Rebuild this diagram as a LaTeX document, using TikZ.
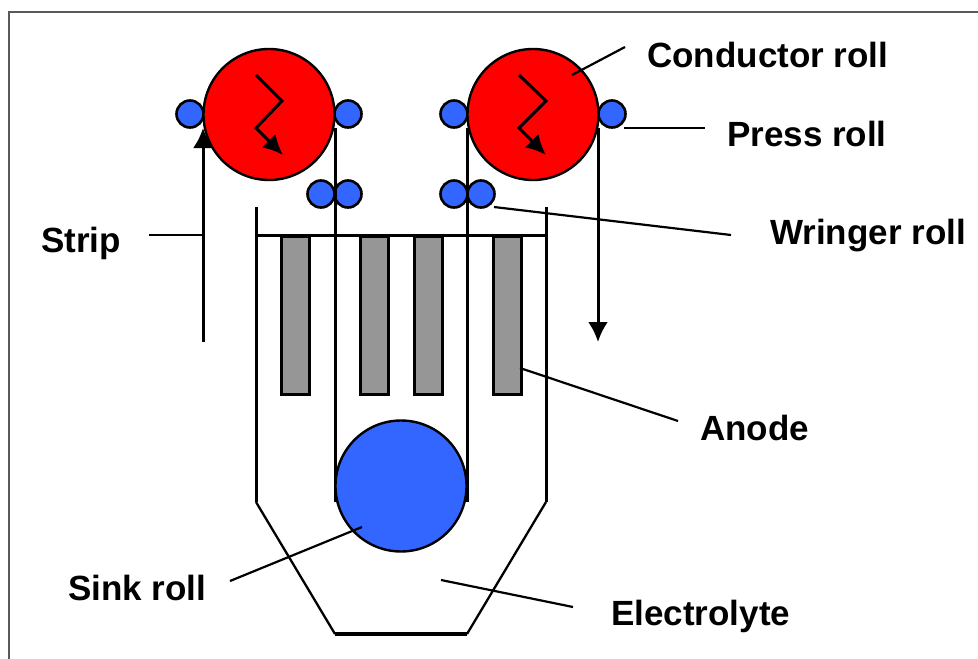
\documentclass[tikz,border=0pt]{standalone}
\usepackage{fontspec}
\setmainfont{Liberation Sans}
\usetikzlibrary{arrows.meta}
\definecolor{rollblue}{RGB}{51,102,255}
\definecolor{anodegray}{RGB}{150,150,150}
\tikzset{
  x=1pt,y=-1pt,
  conductor/.style={circle,draw=black,line width=2.4pt,fill=red,minimum size=131pt,inner sep=0pt},
  smallroll/.style={circle,draw=black,line width=2.6pt,fill=rollblue,minimum size=27pt,inner sep=0pt},
  sinkroll/.style={circle,draw=black,line width=2.4pt,fill=rollblue,minimum size=131pt,inner sep=0pt},
  anode/.style={draw=black,line width=3pt,fill=anodegray,minimum width=28pt,minimum height=158pt,inner sep=0pt,anchor=north},
  strip/.style={line width=3pt,draw=black},
  tank/.style={line width=3pt,draw=black},
  tanklow/.style={line width=2.3pt,draw=black},
  leader/.style={line width=2.2pt,draw=black},
  flow/.style={line width=3pt,draw=black,-{Latex[length=20pt,width=20pt]}},
  zig/.style={line width=3pt,draw=black,-{Latex[length=20pt,width=19pt]}},
  lbl/.style={font=\fontsize{35}{40}\selectfont\bfseries,text=black,inner sep=0pt,anchor=west}
}
\begin{document}
\begin{tikzpicture}
\useasboundingbox (0,0) rectangle (978,659);
\draw[draw=black!65,line width=1.6pt] (9,659) -- (9,12) -- (978,12);
% coordinates
\coordinate (tankTL) at (256,207);
\coordinate (tankL) at (256,502);
\coordinate (tankBL) at (335,634);
\coordinate (tankBR) at (467,634);
\coordinate (tankR) at (546,502);
\coordinate (tankTR) at (546,207);
\coordinate (barL) at (256,235);
\coordinate (barR) at (546,235);
\coordinate (s1a) at (203,342);
\coordinate (s1b) at (203,128);
\coordinate (s2a) at (335,128);
\coordinate (s2b) at (335,502);
\coordinate (s3a) at (467,128);
\coordinate (s3b) at (467,502);
\coordinate (s4a) at (598,128);
\coordinate (s4b) at (598,342);
% tank
\draw[tank] (tankTL) -- (tankL);
\draw[tanklow] (tankL) -- (tankBL);
\draw[tank,line width=3.4pt] (tankBL) -- (tankBR);
\draw[tanklow] (tankBR) -- (tankR);
\draw[tank] (tankR) -- (tankTR);
% anodes
\node[anode] (an1) at (295.5,235) {};
\node[anode] (an2) at (374,235) {};
\node[anode] (an3) at (428,235) {};
\node[anode] (an4) at (507,235) {};
\draw[tank] (barL) -- (barR);
% strip
\draw[strip] (s2a) -- (s2b);
\draw[strip] (s3a) -- (s3b);
\draw[flow] (s1a) -- (s1b);
\draw[flow] (s4a) -- (s4b);
% rolls
\node[sinkroll] (sink) at (401,486) {};
\node[smallroll] (p1) at (190,114) {};
\node[smallroll] (p2) at (348,114) {};
\node[smallroll] (p3) at (454,114) {};
\node[smallroll] (p4) at (612,114) {};
\node[conductor] (c1) at (269,114.5) {};
\node[conductor] (c2) at (533,114.5) {};
\node[smallroll] (w1) at (321,194) {};
\node[smallroll] (w2) at (348,194) {};
\node[smallroll] (w3) at (454,194) {};
\node[smallroll] (w4) at (481,194) {};
% strip over the lower wringer rolls
\draw[strip] (335,181) -- (335,207);
\draw[strip] (467,181) -- (467,207);
% rotation arrows
\draw[zig] (256,75) -- (282,101) -- (256,128) -- (283,155);
\draw[zig] (519,75) -- (546,101) -- (519,128) -- (546,155);
% labels
\node[lbl] (tStrip) at (41,243) {Strip};
\node[lbl] (tCond) at (647,55) {Conductor roll};
\node[lbl] (tPress) at (727,134) {Press roll};
\node[lbl] (tWring) at (770,236) {Wringer roll};
\node[lbl] (tAnode) at (700,428) {Anode};
\node[lbl] (tSink) at (68,588) {Sink roll};
\node[lbl] (tElec) at (611,616) {Electrolyte};
% leaders
\coordinate (lStrip) at (149,235);
\coordinate (lCond) at (625,47);
\coordinate (lCondE) at (572,75);
\coordinate (lPress) at (624,128);
\coordinate (lPressE) at (705,128);
\coordinate (lWr) at (494,207);
\coordinate (lWrE) at (731,235);
\coordinate (lAn) at (520,368);
\coordinate (lAnE) at (678,421);
\coordinate (lSi) at (230,581);
\coordinate (lSiE) at (362,527);
\coordinate (lEl) at (441,580);
\coordinate (lElE) at (573,607);
\draw[leader] (lStrip) -- (s1a |- lStrip);
\draw[leader] (lCond) -- (lCondE);
\draw[leader,line width=2.6pt] (lPress) -- (lPressE);
\draw[leader] (lWr) -- (lWrE);
\draw[leader] (lAn) -- (lAnE);
\draw[leader] (lSi) -- (lSiE);
\draw[leader] (lEl) -- (lElE);
\end{tikzpicture}
\end{document}
